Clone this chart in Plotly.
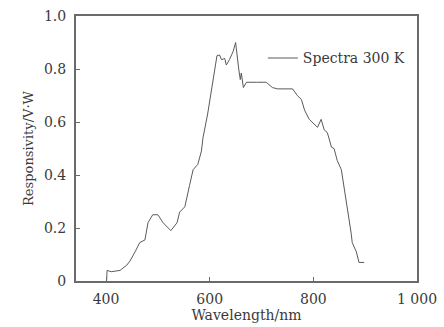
import plotly.graph_objects as go

wavelength = [401, 402, 410, 427, 440, 446, 456, 465, 475, 481, 490, 500, 510, 525, 537, 542, 552, 557,
              561, 568, 577, 584, 587, 596, 603, 610, 614, 619, 623, 629, 632, 638, 645, 650, 652, 656,
              659, 661, 665, 671, 690, 709, 721, 731, 760, 769, 777, 783, 792, 802, 808, 815, 821, 827,
              835, 840, 846, 854, 860, 866, 873, 875, 883, 888, 898]
responsivity = [0.0, 0.04, 0.035, 0.04, 0.06, 0.075, 0.11, 0.145, 0.155, 0.22, 0.25, 0.25, 0.22, 0.19,
                0.22, 0.26, 0.28, 0.32, 0.36, 0.42, 0.44, 0.49, 0.54, 0.63, 0.72, 0.80, 0.85, 0.853,
                0.835, 0.84, 0.815, 0.835, 0.865, 0.90, 0.86, 0.80, 0.76, 0.785, 0.73, 0.75, 0.75, 0.75,
                0.73, 0.725, 0.725, 0.70, 0.685, 0.645, 0.61, 0.59, 0.58, 0.61, 0.57, 0.56, 0.505, 0.50,
                0.455, 0.42, 0.345, 0.28, 0.18, 0.145, 0.11, 0.07, 0.07]

x_tickvals = [400, 600, 800, 1000]
x_ticktext = ["400", "600", "800", "1 000"]
y_tickvals = [0, 0.2, 0.4, 0.6, 0.8, 1.0]
y_ticktext = ["0", "0.2", "0.4", "0.6", "0.8", "1.0"]

font = "DejaVu Serif, Liberation Serif, serif"
axcol = "#6a6a6a"
txtcol = "#3a3a3a"

fig = go.Figure()
fig.add_trace(go.Scatter(x=wavelength, y=responsivity, mode="lines", name="Spectra 300 K",
                         line=dict(color="#5a5a5a", width=1)))

fig.update_layout(
    width=444, height=327,
    margin=dict(l=76, r=27, t=16, b=46),
    paper_bgcolor="white", plot_bgcolor="white",
    font=dict(family=font, size=14, color=txtcol),
    showlegend=True,
    legend=dict(x=0.548, y=0.84, xanchor="left", yanchor="middle", bgcolor="rgba(0,0,0,0)",
                borderwidth=0, itemwidth=30, font=dict(family=font, size=14, color=txtcol),
                tracegroupgap=0),
    xaxis=dict(range=[342, 1000], tickvals=x_tickvals, ticktext=x_ticktext,
               showline=True, mirror=True, linecolor=axcol, linewidth=2,
               ticks="inside", ticklen=4, tickcolor=axcol, showgrid=False, zeroline=False,
               automargin=False,
               title=dict(text="Wavelength/nm", standoff=4, font=dict(size=14, color=txtcol)),
               ticklabelstandoff=4),
    yaxis=dict(range=[0, 1.0], tickvals=y_tickvals, ticktext=y_ticktext,
               showline=True, mirror=True, linecolor=axcol, linewidth=2,
               ticks="inside", ticklen=4, tickcolor=axcol, showgrid=False, zeroline=False,
               automargin=False,
               title=dict(text="Responsivity/V·W", standoff=7, font=dict(size=13, color=txtcol)),
               ticklabelstandoff=5),
)

fig.write_html("out.html")
